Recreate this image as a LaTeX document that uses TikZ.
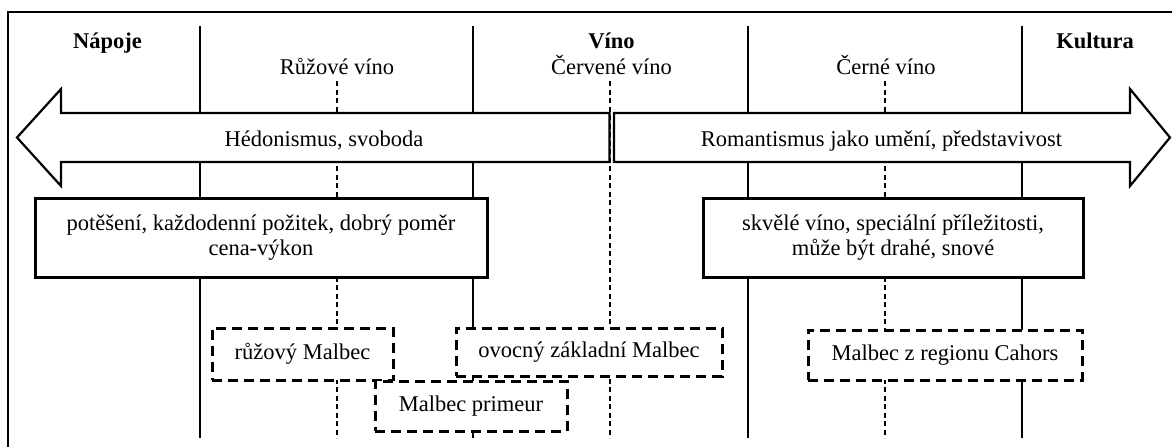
\documentclass[tikz,border=0pt]{standalone}
\usepackage{fontspec}
\setmainfont{Liberation Serif}
\begin{document}
\begin{tikzpicture}[x=1pt,y=-1pt,
  txt/.style={font=\fontsize{22.5}{25}\selectfont, inner sep=0pt, align=center},
  head/.style={txt, font=\fontsize{22.5}{25}\selectfont\bfseries, anchor=base},
  sub/.style={txt, anchor=base},
  solidline/.style={line width=1.1pt},
  dashline/.style={line width=1.1pt, dash pattern=on 5pt off 3.5pt},
  arrowshape/.style={draw, line width=2.2pt, fill=white, line join=miter},
  solidbox/.style={txt, draw, line width=3pt, fill=white},
  dashbox/.style={txt, draw, line width=3pt, dash pattern=on 10pt off 6pt, fill=white}]
\useasboundingbox (0,0) rectangle (1172,447);
\fill[white] (0,0) rectangle (1172,447);
% frame
\draw[line width=1.4pt] (8,447) -- (8,12) -- (1172,12);
% column lines
\foreach \x/\n in {200/a,473/b,748/c,1022/d}{
  \coordinate (s\n top) at (\x,26);
  \coordinate (s\n bot) at (\x,438);
  \draw[solidline] (s\n top) -- (s\n bot);
}
\foreach \x/\n in {337/a,610/b,885/c}{
  \coordinate (d\n top) at (\x,81);
  \coordinate (d\n bot) at (\x,438);
  \draw[dashline] (d\n top) -- (d\n bot);
}
% headings
\node[head] (napoje) at (107.5,48) {Nápoje};
\node[head] (vino) at (611.5,48) {Víno};
\node[head] (kultura) at (1095,48) {Kultura};
\node[sub] (ruzove) at (337,74) {Růžové víno};
\node[sub] (cervene) at (611.5,74) {Červené víno};
\node[sub] (cerne) at (886,74) {Černé víno};
% arrows
\draw[arrowshape] (609.5,113) -- (61,113) -- (61,89) -- (17,137.5) -- (61,186) -- (61,162) -- (609.5,162) -- cycle;
\draw[arrowshape] (614,113) -- (1130,113) -- (1130,89) -- (1170,137.5) -- (1130,186) -- (1130,162) -- (614,162) -- cycle;
\node[txt, anchor=base] (hed) at (324,146.5) {Hédonismus, svoboda};
\node[txt, anchor=base] (rom) at (881.5,146.5) {Romantismus jako umění, představivost};
% solid boxes
\node[solidbox, minimum width=452pt, minimum height=79pt] (b1) at (261,237.5)
  {potěšení, každodenní požitek, dobrý poměr\\cena-výkon};
\node[solidbox, minimum width=380pt, minimum height=79pt] (b2) at (893,237.5)
  {skvělé víno, speciální příležitosti,\\může být drahé, snové};
% dashed boxes
\node[dashbox, minimum width=181pt, minimum height=52pt] (ruz) at (302.5,354) {růžový Malbec};
\node[dashbox, minimum width=266pt, minimum height=48pt] (ovo) at (589,352) {ovocný základní Malbec};
\node[dashbox, minimum width=192pt, minimum height=50pt] (pri) at (471,406) {Malbec primeur};
\node[dashbox, minimum width=274pt, minimum height=50pt] (cah) at (945,355) {Malbec z regionu Cahors};
\end{tikzpicture}
\end{document}
